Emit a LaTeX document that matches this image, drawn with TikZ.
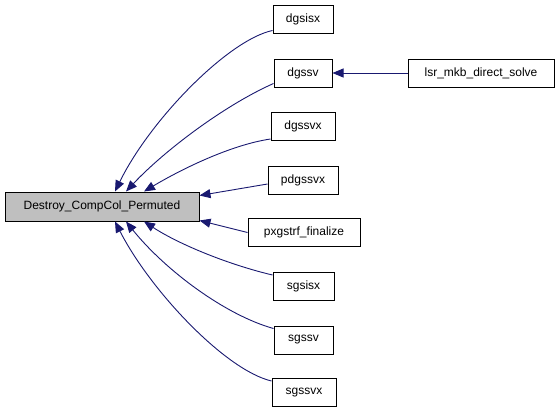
\documentclass[tikz,border=0pt]{standalone}
\usepackage{fontspec}
\setmainfont{Liberation Sans}
\usetikzlibrary{arrows.meta}
\definecolor{edgeblue}{RGB}{25,25,112}
\definecolor{mainfill}{RGB}{191,191,191}
\tikzset{
  fn/.style={draw=black, line width=1pt, fill=white, inner sep=0pt, minimum height=28pt,
    font=\fontsize{12}{14}\selectfont, anchor=center},
  mainfn/.style={fn, fill=mainfill, minimum height=29pt},
  edge/.style={draw=edgeblue, line width=0.9pt, -{Triangle[length=11pt,width=9pt]}},
}
\begin{document}
\begin{tikzpicture}[x=1pt,y=-1pt]
\useasboundingbox (0,0) rectangle (560,413);
\node[mainfn, minimum width=194pt] (main) at (102,206.5) {Destroy\_CompCol\_Permuted};
\node[fn, minimum width=60pt] (dgsisx) at (303,19) {dgsisx};
\node[fn, minimum width=58pt] (dgssv) at (303,73) {dgssv};
\node[fn, minimum width=146pt] (lsr) at (481,73) {lsr\_mkb\_direct\_solve};
\node[fn, minimum width=64pt] (dgssvx) at (303,126.5) {dgssvx};
\node[fn, minimum width=70pt] (pdgssvx) at (303,180) {pdgssvx};
\node[fn, minimum width=112pt] (pxgstrf) at (304,232.5) {pxgstrf\_finalize};
\node[fn, minimum width=61pt] (sgsisx) at (303.5,286.5) {sgsisx};
\node[fn, minimum width=59pt] (sgssv) at (303.5,340) {sgssv};
\node[fn, minimum width=64pt] (sgssvx) at (304,392.5) {sgssvx};

\draw[edge] (lsr.west) -- (dgssv.east);
\draw[edge] ([yshift=3pt]dgsisx.south west) .. controls (228,40) and (150,120) .. ([xshift=13pt]main.north);
\draw[edge] ([yshift=4pt]dgssv.south west) .. controls (225,105) and (165,150) .. ([xshift=24pt]main.north);
\draw[edge] ([yshift=2pt]dgssvx.south west) .. controls (230,145) and (180,170) .. ([xshift=42pt]main.north);
\draw[edge] ([yshift=-4pt]pdgssvx.west) -- ([yshift=-4pt]main.north east);
\draw[edge] (pxgstrf.west) -- ([yshift=1pt]main.south east);
\draw[edge] ([yshift=-3pt]sgsisx.north west) .. controls (230,265) and (180,245) .. ([xshift=42pt]main.south);
\draw[edge] ([yshift=-3pt]sgssv.north west) .. controls (225,315) and (165,270) .. ([xshift=24pt]main.south);
\draw[edge] ([yshift=-3pt]sgssvx.north west) .. controls (225,370) and (150,290) .. ([xshift=13pt]main.south);
\end{tikzpicture}
\end{document}
